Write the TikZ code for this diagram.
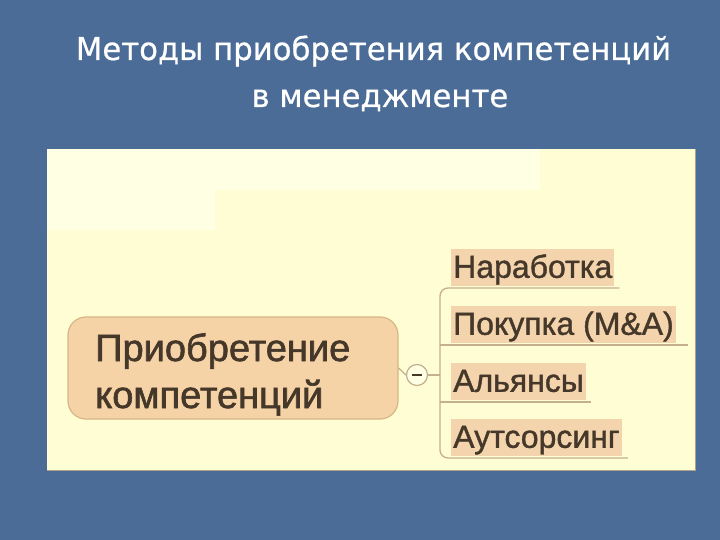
\documentclass[tikz,border=0pt]{standalone}
\usepackage{fontspec}
\setmainfont{Liberation Sans}
\newfontfamily\titlefont[FakeBold=0.6]{DejaVu Sans}
\newfontfamily\labfont[FakeBold=1.2]{Liberation Sans}
\newfontfamily\mainfont[FakeBold=1.6]{Liberation Sans}
\begin{document}
\begin{tikzpicture}[x=1pt,y=-1pt,
  mainbox/.style={draw=boxline, line width=1.2pt, fill=boxfill, rounded corners=18pt,
     minimum width=330pt, minimum height=102pt, inner sep=0pt},
  maintxt/.style={anchor=base west, text=txtcol, font=\mainfont\fontsize{38}{38}\selectfont, inner sep=0pt},
  lab/.style={fill=labfill, inner xsep=2pt, inner ysep=1pt, text height=28pt, text depth=7pt,
     font=\labfont\fontsize{32}{32}\selectfont, text=txtcol, anchor=south west},
  br/.style={draw=brcol, line width=1.3pt},
  ttl/.style={text=white, font=\titlefont\fontsize{31.5}{31.5}\selectfont, anchor=base, inner sep=0pt}
]
\definecolor{bgcol}{HTML}{4B6C96}
\definecolor{panel}{HTML}{FFFDD3}
\definecolor{panellight}{HTML}{FFFFE4}
\definecolor{boxfill}{HTML}{F5D3A6}
\definecolor{boxline}{HTML}{D6B686}
\definecolor{labfill}{HTML}{F3D4AC}
\definecolor{txtcol}{HTML}{45382A}
\definecolor{brcol}{HTML}{C4B08E}
\useasboundingbox (0,0) rectangle (720,540);
\fill[bgcol] (0,0) rectangle (720,540);
% panel
\fill[panel] (47,149) rectangle (695,470);
\fill[panellight] (47,149) rectangle (215,230);
\fill[panellight] (215,149) rectangle (540,190);
\draw[brcol!70!gray, line width=0.8pt] (47,470) -- (695,470) -- (695,149);
% title
\node[ttl] (t1) at (373.5,60) {\scalebox{0.975}[1]{Методы приобретения компетенций}};
\node[ttl] (t2) at (380,107) {\scalebox{0.975}[1]{в менеджменте}};
% main node
\node[mainbox] (main) at (233,368) {};
\node[maintxt] (m1) at (95,361) {Приобретение};
\node[maintxt] (m2) at (95,408) {компетенций};
% labels
\coordinate (brx) at (440,375);
\node[lab] (n1) at (451,286) {Наработка};
\node[lab] (n2) at (451,343) {Покупка (M\&A)};
\node[lab] (n3) at (451,400) {Альянсы};
\node[lab] (n4) at (451,456) {Аутсорсинг};
\coordinate (u1) at ([xshift=5pt,yshift=-2pt]n1.south east);
\coordinate (u2) at ([xshift=12pt,yshift=-2pt]n2.south east);
\coordinate (u3) at ([xshift=5pt,yshift=-2pt]n3.south east);
\coordinate (u4) at ([xshift=6pt,yshift=-2pt]n4.south east);
\draw[br, rounded corners=8pt] (u1) -- (u1 -| brx) -- (u4 -| brx) -- (u4);
\draw[br] (u2) -- (u2 -| brx);
\draw[br] (u3) -- (u3 -| brx);
% minus
\node[circle, draw=brcol, line width=1.2pt, fill=panellight, minimum size=21pt, inner sep=0pt] (minus) at (417,375) {};
\draw[txtcol, line width=2pt] ([xshift=-5pt]minus.center) -- ([xshift=5pt]minus.center);
\draw[br] (main.east) -- (minus.west);
\draw[br] (minus.east) -- (brx);
\end{tikzpicture}
\end{document}
